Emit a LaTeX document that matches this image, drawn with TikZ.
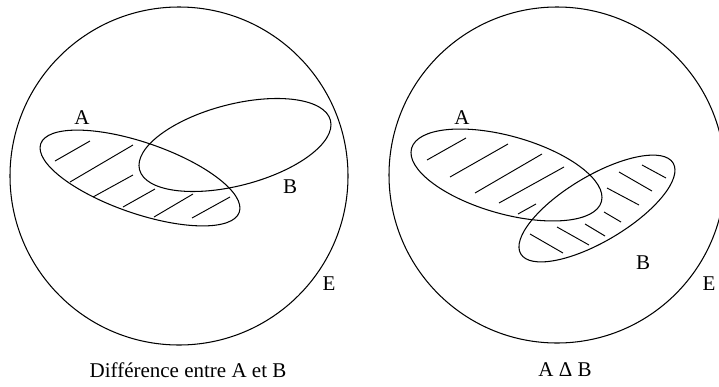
\documentclass[tikz,border=0pt]{standalone}
\usepackage{fontspec}
\setmainfont{Liberation Serif}
\usetikzlibrary{positioning}
\tikzset{
  bord/.style={line width=1.05pt},
  hatch/.style={line width=0.95pt},
  lbl/.style={font=\fontsize{21}{23}\selectfont,inner sep=0pt},
}

\begin{document}
\begin{tikzpicture}[x=1pt,y=-1pt]
\clip (0,0) rectangle (719,386);
% univers E
\coordinate (cE1) at (179,176);
\coordinate (cE2) at (557,175);
\draw[bord] (cE1) circle [radius=169];
\draw[bord] (cE2) circle [radius=168];
% difference A - B
\coordinate (cA1) at (140,178);
\coordinate (cB1) at (235,145);
\draw[bord,rotate around={-19:(cA1)}] (cA1) ellipse [x radius=105,y radius=35.5];
\draw[bord,rotate around={14.5:(cB1)}] (cB1) ellipse [x radius=98.6,y radius=40.7];
\foreach \xa/\ya/\xb/\yb in {55/161/90/141, 70/182/133/145, 93/197/133/175,
  123/207/155/189, 154/217/193/194, 192/218/230/197}
  \draw[hatch] (\xa,\ya) -- (\xb,\yb);
\node[lbl] (labA1) at (82,118) {A};
\node[lbl] (labB1) at (290,187) {B};
\node[lbl] (labE1) at (329,284) {E};
\node[lbl] (cap1) at (188,370) {Différence entre A et B};
% difference symetrique
\coordinate (cA2) at (506.5,175);
\coordinate (cB2) at (597,208.5);
\draw[bord,rotate around={-15.7:(cA2)}] (cA2) ellipse [x radius=98.6,y radius=38.9];
\draw[bord,rotate around={30.8:(cB2)}] (cB2) ellipse [x radius=88.7,y radius=32.7];
\foreach \xa/\ya/\xb/\yb in {427/160/466/138, 450/177/508/144, 475/193/542/154,
  499/203/564/167, 518/214/536/204}
  \draw[hatch] (\xa,\ya) -- (\xb,\yb);
\foreach \xa/\ya/\xb/\yb in {642/165/666/178, 619/172/652/191, 607/188/639/205,
  604/212/621/222, 585/224/605/236, 557/227/589/245, 530/234/563/253}
  \draw[hatch] (\xa,\ya) -- (\xb,\yb);
\node[lbl] (labA2) at (462,118) {A};
\node[lbl] (labB2) at (643,263) {B};
\node[lbl] (labE2) at (709,284) {E};
\node[lbl] (cap2) at (565,370) {A Δ B};
\end{tikzpicture}
\end{document}
